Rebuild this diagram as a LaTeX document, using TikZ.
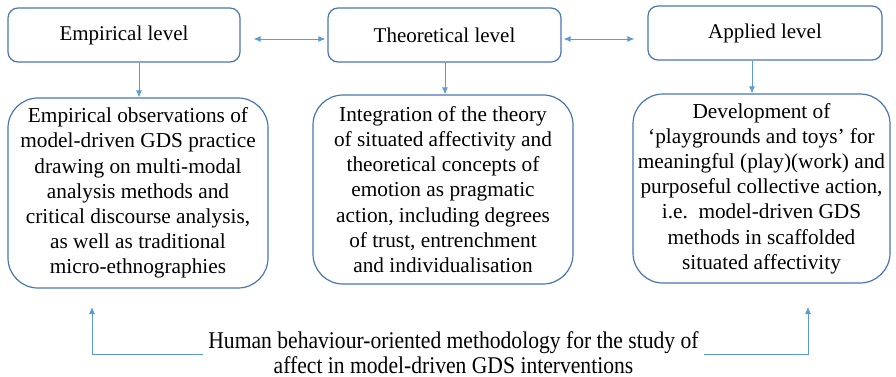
\documentclass[tikz,border=0pt]{standalone}
\usepackage{fontspec}
\setmainfont{Liberation Serif}
\newfontfamily\condserif[FakeStretch=0.9]{Liberation Serif}
\usetikzlibrary{arrows.meta}
\definecolor{boxblue}{RGB}{72,118,178}
\definecolor{arrowblue}{RGB}{91,155,213}
\begin{document}
\begin{tikzpicture}[x=1pt,y=-1pt,
  levelbox/.style={draw=boxblue,line width=1.2pt,rounded corners=10pt,minimum height=54pt,inner sep=0pt,font=\fontsize{21}{25}\selectfont},
  contentbox/.style={draw=boxblue,line width=1.2pt,rounded corners=30pt,inner sep=0pt,align=center,font=\fontsize{21.3}{25.2}\selectfont},
  conn/.style={draw=arrowblue,line width=0.9pt,-{Latex[length=7pt,width=6pt]}},
  dconn/.style={draw=arrowblue,line width=0.9pt,{Latex[length=7pt,width=6pt]}-{Latex[length=7pt,width=6pt]}}]
\useasboundingbox (0,0) rectangle (896,377);
% top level boxes
\node[levelbox,minimum width=232pt] (emp) at (124,35) {Empirical level};
\node[levelbox,minimum width=233pt] (theo) at (444.5,35) {Theoretical level};
\node[levelbox,minimum width=234pt] (app) at (765,33) {Applied level};
% content boxes
\node[contentbox,minimum width=260pt,minimum height=190pt] (empB) at (138,193)
  {Empirical observations of\\model-driven GDS practice\\drawing on multi-modal\\analysis methods and\\critical discourse analysis,\\as well as traditional\\micro-ethnographies};
\node[contentbox,minimum width=260pt,minimum height=189pt] (theoB) at (443,189.5)
  {Integration of the theory\\of situated affectivity and\\theoretical concepts of\\emotion as pragmatic\\action, including degrees\\of trust, entrenchment\\and individualisation};
\node[contentbox,minimum width=257pt,minimum height=189pt] (appB) at (761.5,188.5)
  {Development of\\‘playgrounds and toys’ for\\meaningful (play)(work) and\\purposeful collective action,\\i.e.\ \ model-driven GDS\\methods in scaffolded\\situated affectivity};
% bottom text
\node[font=\condserif\fontsize{24}{25}\selectfont,align=center,inner sep=5pt,anchor=base] (human) at (453.5,373)
  {Human behaviour-oriented methodology for the study of\\affect in model-driven GDS interventions};
% horizontal double arrows
\draw[dconn] ([shift={(13,4)}]emp.east) -- ([shift={(-2,4)}]theo.west);
\draw[dconn] ([shift={(2,4)}]theo.east) -- ([shift={(-13,6)}]app.west);
% vertical arrows
\coordinate (empIn) at ([xshift=1pt]empB.north);
\coordinate (theoIn) at ([xshift=2pt]theoB.north);
\coordinate (appIn) at ([xshift=-9.5pt]appB.north);
\draw[conn] (emp.south -| empIn) -- (empIn);
\draw[conn] (theo.south -| theoIn) -- (theoIn);
\draw[conn] (app.south -| appIn) -- (appIn);
% bottom connectors
\coordinate (lt) at (92,307);
\coordinate (rt) at (808,307);
\draw[conn] ([yshift=-2pt]human.west) -| (lt);
\draw[conn] ([yshift=-2pt]human.east) -| (rt);
\end{tikzpicture}
\end{document}
